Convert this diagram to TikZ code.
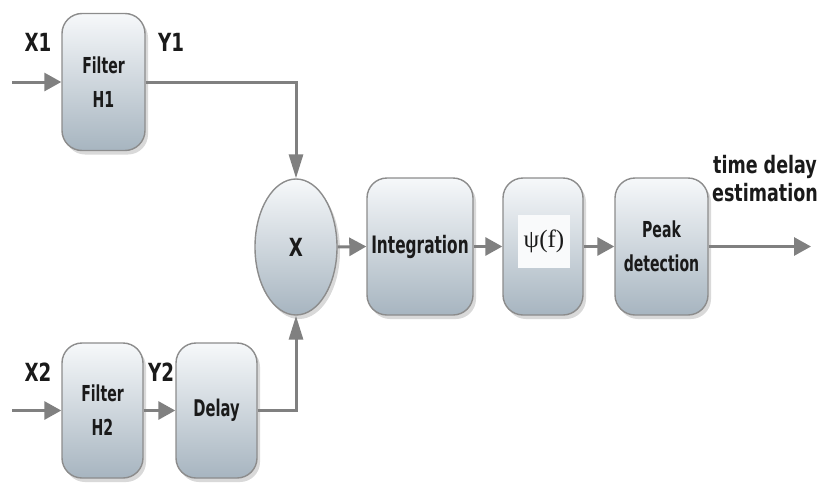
\documentclass[tikz,border=0pt]{standalone}
\usepackage{fontspec}
\setmainfont{DejaVu Sans}[FakeStretch=0.73]
\newfontfamily\boxfont{DejaVu Sans}[FakeStretch=0.64]
\newfontfamily\psifont{Liberation Serif}
\usetikzlibrary{arrows.meta,shapes.geometric,shadows,calc}
\definecolor{boxtop}{HTML}{F6F8FA}
\definecolor{boxbot}{HTML}{A7B5C0}
\definecolor{boxline}{HTML}{8C8C8C}
\definecolor{arr}{HTML}{808080}
\definecolor{txt}{HTML}{1A1A1A}
\tikzset{
  blockbox/.style={rectangle, rounded corners=20pt, draw=boxline, line width=1.4pt,
    top color=boxtop, bottom color=boxbot, text=txt, align=center,
    font=\boxfont\bfseries\fontsize{22}{34}\selectfont,
    drop shadow={shadow xshift=3pt, shadow yshift=-4pt, opacity=0.3, fill=gray}},
  multnode/.style={ellipse, draw=boxline, line width=1.4pt,
    top color=boxtop, bottom color=boxbot, text=txt,
    font=\bfseries\fontsize{25}{30}\selectfont,
    drop shadow={shadow xshift=3pt, shadow yshift=-4pt, opacity=0.3, fill=gray}},
  lab/.style={text=txt, font=\bfseries\fontsize{25}{28}\selectfont, align=center},
  conn/.style={draw=arr, line width=3pt, -{Triangle[length=17pt,width=18pt]}},
  vconn/.style={draw=arr, line width=3pt, -{Triangle[length=24pt,width=14pt]}},
}
\begin{document}
\begin{tikzpicture}[x=1pt,y=-1pt]
\useasboundingbox (0,0) rectangle (819,482);
\node[blockbox, minimum width=83pt, minimum height=137pt] (h1) at (103.5,82) {Filter\\H1};
\node[blockbox, minimum width=81pt, minimum height=135pt] (h2) at (102.5,410.5) {Filter\\H2};
\node[blockbox, minimum width=81pt, minimum height=135pt, font=\boxfont\bfseries\fontsize{23}{34}\selectfont] (delay) at (216.5,410.5) {Delay};
\node[multnode, minimum width=82pt, minimum height=136pt, inner sep=0pt] (mult) at (296,247) {X};
\node[blockbox, minimum width=106pt, minimum height=137pt, inner sep=0pt, font=\boxfont\bfseries\fontsize{24}{34}\selectfont] (integ) at (420,246.5) {Integration};
\node[blockbox, minimum width=80pt, minimum height=137pt] (psi) at (543,246.5) {};
\node[fill=white!93!boxbot, minimum width=52pt, minimum height=53pt, inner sep=0pt,
  text=txt, font=\psifont\fontsize{25}{28}\selectfont] (psitext) at (544,241.5) {ψ(f)};
\node[blockbox, minimum width=93pt, minimum height=137pt] (peak) at (661.5,246.5) {Peak\\detection};

\node[lab] (x1) at (38,42) {X1};
\node[lab] (y1) at (171,42) {Y1};
\node[lab] (x2) at (38,372) {X2};
\node[lab] (y2) at (161,372) {Y2};
\node[lab, font=\bfseries\fontsize{24}{28}\selectfont] (tde) at (765,179) {time delay\\estimation};

\coordinate (in1) at (12,82);
\coordinate (in2) at (12,410.5);
\coordinate (out) at (811,246.5);

\draw[conn] (in1) -- (h1.west);
\draw[vconn] (h1.east) -| (mult.north);
\draw[conn] (in2) -- (h2.west);
\draw[conn] (h2.east) -- (delay.west);
\draw[vconn] (delay.east) -| (mult.south);
\draw[conn] (mult.east) -- (integ.west);
\draw[conn] (integ.east) -- (psi.west);
\draw[conn] (psi.east) -- (peak.west);
\draw[conn] (peak.east) -- (out);
\end{tikzpicture}
\end{document}
